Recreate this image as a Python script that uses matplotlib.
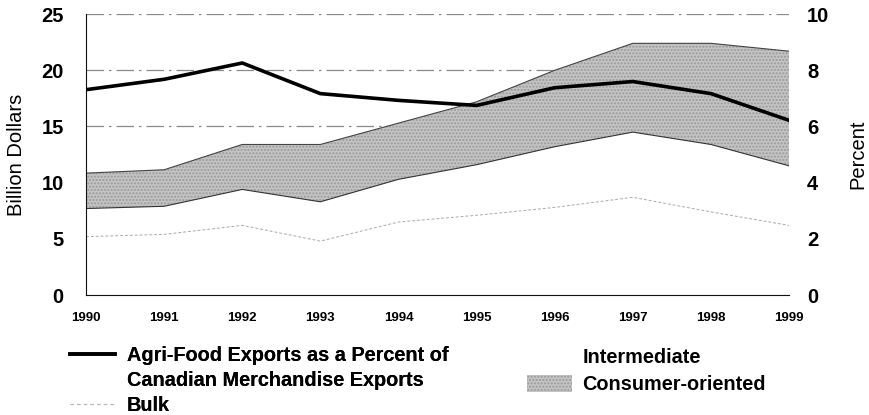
import numpy as np
import matplotlib.pyplot as plt
from matplotlib.lines import Line2D
from matplotlib.patches import Patch

plt.rcParams['font.family'] = ['Liberation Sans', 'DejaVu Sans']

years = [1990, 1991, 1992, 1993, 1994, 1995, 1996, 1997, 1998, 1999]
# billion dollars, per category (not cumulative)
bulk = [5.2, 5.4, 6.2, 4.8, 6.5, 7.1, 7.8, 8.7, 7.4, 6.2]
intermediate = [2.5, 2.5, 3.2, 3.5, 3.8, 4.5, 5.4, 5.8, 6.0, 5.3]
consumer = [3.15, 3.25, 4.0, 5.1, 5.0, 5.6, 6.8, 7.9, 9.0, 10.2]
# agri-food exports as percent of merchandise exports
pct_share = [7.31, 7.68, 8.26, 7.17, 6.93, 6.75, 7.38, 7.6, 7.17, 6.22]

GRAY = '#c4c4c4'


def main():
    fig = plt.figure(figsize=(8.69, 4.15), dpi=100)
    ax = fig.add_axes([0.099, 0.289, 0.809, 0.677])
    ax2 = ax.twinx()

    x = np.array(years)
    b = np.array(bulk)
    i = b + np.array(intermediate)
    c = i + np.array(consumer)

    # gridlines sit behind the areas
    for g in [15, 20, 25]:
        ax.axhline(g, color='#8a8a8a', lw=0.9, ls=(0, (14, 4, 2, 4)), zorder=0)

    ax.fill_between(x, 0, b, color='white', lw=0, zorder=1)
    ax.fill_between(x, b, i, color='white', lw=0, zorder=1)
    ax.fill_between(x, i, c, facecolor=GRAY, edgecolor='#999999',
                    hatch='.....', lw=0, zorder=1)
    ax.plot(x, b, color='#aaaaaa', lw=0.7, ls=(0, (3, 2)), zorder=2)
    ax.plot(x, i, color='#333333', lw=0.8, zorder=2)
    ax.plot(x, c, color='#444444', lw=0.8, zorder=2)
    ax.vlines(x[-1], 0, c[-1], color='#888888', lw=0.7, ls=(0, (2, 2)), zorder=2)

    ax2.plot(x, pct_share, color='black', lw=2.6)

    ax.set_xlim(1990, 1999)
    ax.set_ylim(0, 25)
    ax2.set_ylim(0, 10)
    ax.set_yticks([0, 5, 10, 15, 20, 25])
    ax2.set_yticks([0, 2, 4, 6, 8, 10])
    ax.set_xticks(years)
    ax.set_xticklabels([str(y) for y in years], fontsize=9.5, fontweight='bold')

    for a in (ax, ax2):
        a.tick_params(length=0)
        a.spines['top'].set_visible(False)
        a.spines['right'].set_visible(False)
        a.patch.set_visible(False)
    ax2.spines['left'].set_visible(False)
    ax2.spines['bottom'].set_visible(False)
    ax.spines['left'].set_color('#111111')
    ax.spines['bottom'].set_color('#111111')
    ax.tick_params(axis='x', pad=12)
    ax.tick_params(axis='y', pad=16, labelsize=14.5)
    ax2.tick_params(axis='y', pad=13, labelsize=14.5)
    for lab in ax.get_yticklabels() + ax2.get_yticklabels():
        lab.set_fontweight('bold')

    ax.set_ylabel('Billion Dollars', fontsize=14.5, labelpad=11)
    ax2.set_ylabel('Percent', fontsize=14.5, labelpad=14)

    prop = {'weight': 'bold', 'size': 14.3}
    h1 = [Line2D([], [], color='black', lw=2.6),
          Line2D([], [], color='none'),
          Line2D([], [], color='#b8b8b8', lw=0.8, ls=(0, (3, 3)))]
    l1 = ['Agri-Food Exports as a Percent of', 'Canadian Merchandise Exports', 'Bulk']
    leg1 = fig.legend(h1, l1, loc='upper left', bbox_to_anchor=(0.0806, 0.166),
                      frameon=False, handlelength=2.26, handletextpad=0.6,
                      labelspacing=0.31, borderaxespad=0, borderpad=0, prop=prop)
    h2 = [Patch(facecolor='white', edgecolor='none'),
          Patch(facecolor=GRAY, edgecolor='#999999', hatch='.....', lw=0)]
    l2 = ['Intermediate', 'Consumer-oriented']
    fig.legend(h2, l2, loc='upper left', bbox_to_anchor=(0.606, 0.1614),
               frameon=False, handlelength=2.26, handleheight=0.9, handletextpad=0.55,
               labelspacing=0.41, borderaxespad=0, borderpad=0, prop=prop)
    fig.add_artist(leg1)

    fig.savefig('out.png', dpi=100)


if __name__ == "__main__":
    main()
